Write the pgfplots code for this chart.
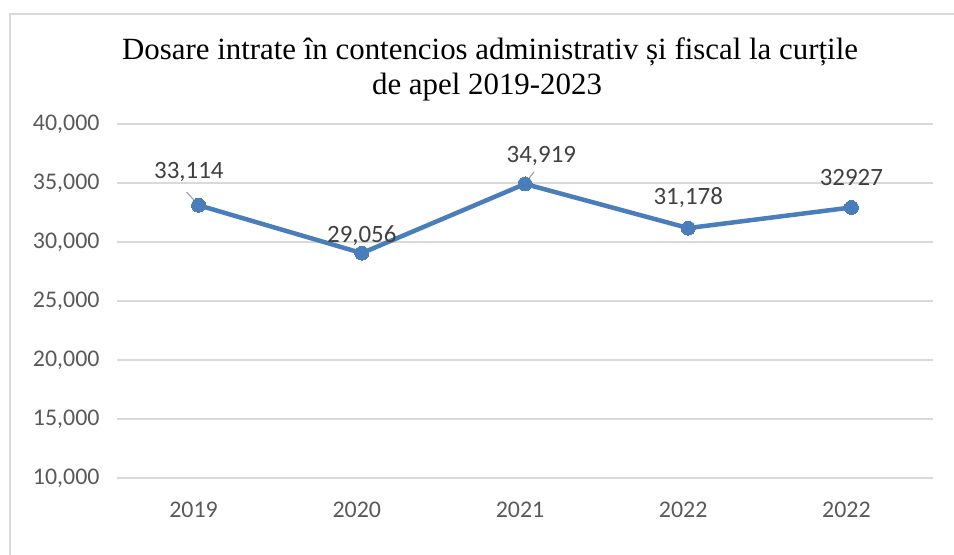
\documentclass[border=0pt]{standalone}
\usepackage{fontspec}
\setmainfont{Liberation Serif}
\newfontfamily\calibri{Carlito}
\usepackage{pgfplots}
\pgfplotsset{compat=1.18}
\definecolor{linebl}{HTML}{4A7EBB}
\definecolor{gridc}{HTML}{D9D9D9}
\definecolor{tickc}{HTML}{595959}
\definecolor{lblc}{HTML}{404040}
\definecolor{leadc}{HTML}{A6A6A6}
\begin{document}
\begin{tikzpicture}[x=1bp,y=1bp]
\path[use as bounding box] (0,0) rectangle (954,555);
\draw[gridc, line width=2.5bp] (10,0) -- (10,541) -- (954,541);
\node[anchor=base, font=\fontsize{31}{34}\selectfont] at (490,495) {Dosare intrate în contencios administrativ și fiscal la curțile};
\node[anchor=base, font=\fontsize{31}{34}\selectfont] at (487,460) {de apel 2019-2023};
\begin{axis}[
  at={(117bp,77bp)}, anchor=south west, scale only axis,
  width=816bp, height=354bp,
  xmin=-0.5, xmax=4.5, ymin=10000, ymax=40000,
  ytick={10000,15000,20000,25000,30000,35000,40000},
  xtick={0,1,2,3,4}, xticklabels={2019,2020,2021,2022,2022},
  axis line style={draw=none},
  ymajorgrids, grid style={gridc, line width=1.5bp},
  major tick length=0pt,
  tick label style={font=\calibri\fontsize{24}{26}\selectfont, text=tickc},
  /pgf/number format/assume math mode=true,
  /pgf/number format/1000 sep={,},
  scaled y ticks=false,
  yticklabel style={xshift=-14bp},
  xticklabel style={yshift=-20bp, xshift=-5bp},
  clip=false,
]
\addplot[linebl, line width=4.5bp, mark=*, mark size=7bp, mark options={fill=linebl, draw=linebl, line width=0pt}]
  coordinates {(0,33114) (1,29056) (2,34919) (3,31178) (4,32927)};
\draw[leadc, line width=1.2bp] (axis cs:-0.074,34237) -- (axis cs:-0.012,33305);
\draw[leadc, line width=1.2bp] (axis cs:2.055,35932) -- (axis cs:2.012,35169);
\begin{scope}[every node/.style={font=\calibri\fontsize{25}{27}\selectfont, text=lblc}]
\node at (axis cs:-0.06,35900) {33,114};
\node at (axis cs:1.0,30508) {29,056};
\node at (axis cs:2.1,37288) {34,919};
\node at (axis cs:3.0,33729) {31,178};
\node at (axis cs:4.0,35424) {32927};
\end{scope}
\end{axis}
\end{tikzpicture}
\end{document}
